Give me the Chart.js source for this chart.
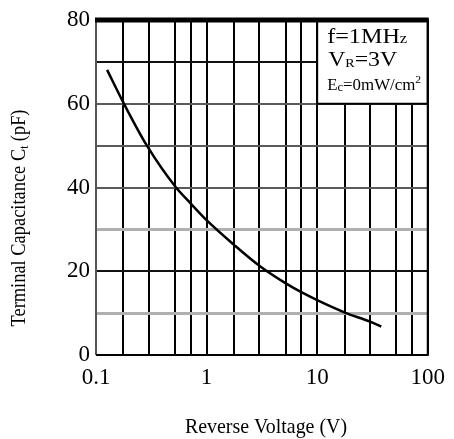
<!DOCTYPE html>
<html>
<head>
<meta charset="utf-8">
<title>Terminal Capacitance vs Reverse Voltage</title>
<script src="https://cdn.jsdelivr.net/npm/chart.js@4.4.1/dist/chart.umd.min.js"></script>
<style>
  html, body { margin: 0; padding: 0; background: #fff; }
  #chart { display: block; }
</style>
</head>
<body>
<canvas id="chart" width="454" height="439"></canvas>
<script>
// Reverse voltage (V)
const voltage = [0.126, 0.179, 0.287, 0.525, 0.7, 1.0, 1.77, 3.0, 5.2, 7.2, 10, 17.6, 30, 38];
// Terminal capacitance Ct (pF) at those voltages
const capacitance = [68.1, 60, 50.1, 40.1, 36.5, 32.2, 26.3, 21.3, 17.1, 15.0, 13.1, 10.2, 7.95, 6.8];

// vertical grid lines on the log axis, and the ones that get a label
const xGridValues = [0.1, 0.177, 0.3, 0.52, 0.72, 1, 1.77, 3, 5.2, 7.2, 10, 17.7, 30, 52, 72, 100];
const xTickLabels = [0.1, 1, 10, 100];
const yTickLabels = [0, 20, 40, 60, 80];

const FONT = '"Liberation Serif", "Times New Roman", serif';

// horizontal grid: 20 and 70 black, 30 and 10 light grey, the rest mid grey
function yGridColor(ctx) {
    const v = ctx.tick.value;
    if (v === 20 || v === 70) return '#111';
    if (v === 10 || v === 30) return '#b0b0b0';
    return '#5a5a5a';
}

/**
 * Draw a run of text pieces (for sub/superscripts), squeezed to a given width
 */
function drawRuns(ctx, runs, x, y, width, opts = {}) {
    ctx.save();
    let total = 0;
    runs.forEach(r => {
        ctx.font = r.size + 'px ' + FONT;
        r.w = ctx.measureText(r.text).width;
        total += r.w;
    });
    ctx.translate(x, y);
    if (opts.angle) ctx.rotate(opts.angle);
    ctx.scale(width / total, 1);
    ctx.fillStyle = '#000';
    ctx.textAlign = 'left';
    ctx.textBaseline = 'alphabetic';
    let cx = opts.center ? -total / 2 : 0;
    runs.forEach(r => {
        ctx.font = r.size + 'px ' + FONT;
        ctx.fillText(r.text, cx, r.dy || 0);
        cx += r.w;
    });
    ctx.restore();
}

const framePlugin = {
    id: 'frame',
    afterDatasetsDraw(chart) {
        const { ctx, chartArea: a, scales } = chart;
        const boxLeft = scales.x.getPixelForValue(10);
        const boxBottom = scales.y.getPixelForValue(60);

        // conditions box in the top-right corner
        ctx.save();
        ctx.fillStyle = '#fff';
        ctx.fillRect(boxLeft, a.top, a.right - boxLeft, boxBottom - a.top);
        ctx.strokeStyle = '#000';
        ctx.lineWidth = 2;
        ctx.strokeRect(boxLeft, a.top, a.right - boxLeft, boxBottom - a.top);

        // plot frame
        ctx.strokeStyle = '#555';
        ctx.beginPath();
        ctx.moveTo(a.left, a.top);
        ctx.lineTo(a.left, a.bottom);
        ctx.stroke();
        ctx.strokeStyle = '#000';
        ctx.beginPath();
        ctx.moveTo(a.left, a.bottom);
        ctx.lineTo(a.right, a.bottom);
        ctx.lineTo(a.right, a.top);
        ctx.stroke();
        ctx.lineWidth = 5;
        ctx.beginPath();
        ctx.moveTo(a.left - 1, a.top);
        ctx.lineTo(a.right + 1, a.top);
        ctx.stroke();
        ctx.restore();

        // box text
        drawRuns(ctx, [
            { text: 'f=1MH', size: 22 },
            { text: 'z', size: 15 }
        ], boxLeft + 10, 43, 80);
        drawRuns(ctx, [
            { text: 'V', size: 22 },
            { text: 'R', size: 13, dy: 1 },
            { text: '=3V', size: 22 }
        ], boxLeft + 11, 66, 69);
        drawRuns(ctx, [
            { text: 'E', size: 16 },
            { text: 'c', size: 12, dy: 1 },
            { text: '=0mW/cm', size: 16 },
            { text: '2', size: 11, dy: -7 }
        ], boxLeft + 10, 90, 94);
    },
    afterDraw(chart) {
        const { ctx } = chart;
        // axis titles
        drawRuns(ctx, [{ text: 'Reverse Voltage (V)', size: 22 }], 266, 433, 162, { center: true });
        drawRuns(ctx, [
            { text: 'Terminal Capacitance C', size: 22 },
            { text: 't', size: 13, dy: 3 },
            { text: ' (pF)', size: 22 }
        ], 25, 218, 217, { center: true, angle: -Math.PI / 2 });
    }
};

const points = voltage.map((v, i) => ({ x: v, y: capacitance[i] }));

new Chart(document.getElementById('chart'), {
    type: 'line',
    data: {
        datasets: [{
            data: points,
            borderColor: '#000',
            borderWidth: 2.5,
            pointRadius: 0,
            fill: false,
            cubicInterpolationMode: 'monotone'
        }]
    },
    options: {
        responsive: false,
        animation: false,
        layout: { padding: { top: 20, right: 25, left: 0, bottom: 0 } },
        plugins: {
            legend: { display: false },
            tooltip: { enabled: false }
        },
        scales: {
            x: {
                type: 'logarithmic',
                min: 0.1,
                max: 100,
                afterBuildTicks: scale => {
                    scale.ticks = xGridValues.map(v => ({ value: v }));
                },
                afterFit: scale => { scale.height = 84; },
                border: { display: false },
                grid: { color: '#000', lineWidth: 2, drawTicks: false },
                ticks: {
                    autoSkip: false,
                    maxRotation: 0,
                    padding: 9,
                    color: '#000',
                    font: { family: FONT, size: 23 },
                    callback: v => xTickLabels.includes(v) ? String(v) : ''
                }
            },
            y: {
                min: 0,
                max: 80,
                afterFit: scale => { scale.width = 96; },
                border: { display: false },
                grid: {
                    color: yGridColor,
                    lineWidth: ctx => (ctx.tick.value === 10 || ctx.tick.value === 30) ? 3 : 2,
                    drawTicks: false
                },
                ticks: {
                    stepSize: 10,
                    padding: 6,
                    color: '#000',
                    font: { family: FONT, size: 23 },
                    callback: v => yTickLabels.includes(v) ? String(v) : ''
                }
            }
        }
    },
    plugins: [framePlugin]
});
</script>
</body>
</html>
